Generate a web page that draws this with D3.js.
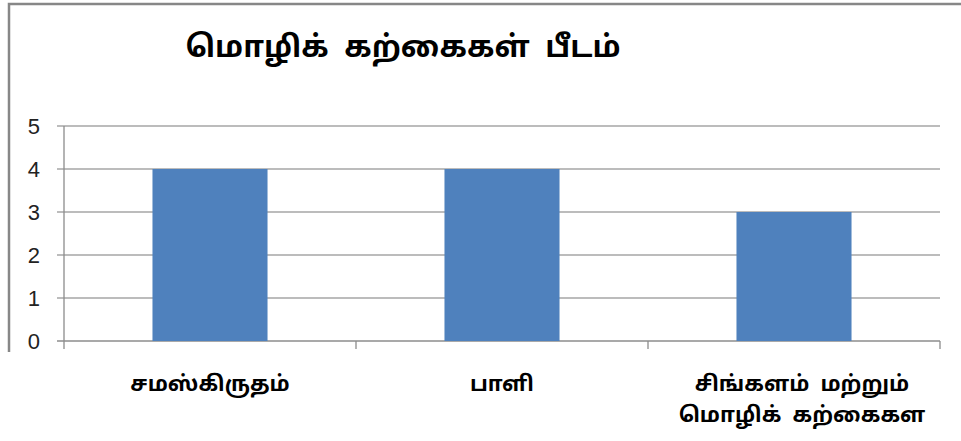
<html>
<head>
<meta charset="utf-8">
<style>
  body { margin:0; background:#fff; }
  svg { display:block; }
  text { white-space: pre; }
</style>
</head>
<body>
<div id="chart"></div>
<script src="https://cdn.jsdelivr.net/npm/d3@7"></script>
<script>
var title = "மொழிக் கற்கைகள் பீடம்";
var categories = ["சமஸ்கிருதம்", "பாளி", "சிங்களம் மற்றும் மொழிக் கற்கைகள"];
var labelLines = [["சமஸ்கிருதம்"], ["பாளி"], ["சிங்களம்  மற்றும்", "மொழிக்  கற்கைகள"]];
var values = [4, 4, 3];
var yTicks = [0, 1, 2, 3, 4, 5];

var W = 961, H = 441;
var mLeft = 64, mRight = 940, mTop = 126, mBottom = 341;

var svg = d3.select("#chart").append("svg")
    .attr("width", W).attr("height", H);

// outer frame (only top & left visible in the crop)
svg.append("path")
    .attr("d", "M9,352 V4 H961")
    .attr("fill", "none")
    .attr("stroke", "#878787")
    .attr("stroke-width", 2.5);

var x = d3.scaleBand().domain(categories).range([mLeft, mRight]).paddingInner(0.606).paddingOuter(0.303);
var xOuter = d3.scaleBand().domain(categories).range([mLeft, mRight]);
var y = d3.scaleLinear().domain([0, 5]).range([mBottom, mTop]);

// gridlines
svg.append("g").selectAll("line")
    .data(yTicks)
    .enter().append("line")
    .attr("x1", mLeft - 7).attr("x2", mRight)
    .attr("y1", function(d){ return y(d); })
    .attr("y2", function(d){ return y(d); })
    .attr("stroke", function(d){ return d === 0 ? "#8c8c8c" : "#a6a6a6"; })
    .attr("stroke-width", 1.3);

// y axis line
svg.append("line")
    .attr("x1", mLeft).attr("x2", mLeft)
    .attr("y1", mTop).attr("y2", mBottom + 8)
    .attr("stroke", "#8c8c8c").attr("stroke-width", 1.3);

// y tick labels
svg.append("g").selectAll("text")
    .data(yTicks)
    .enter().append("text")
    .attr("x", 40)
    .attr("y", function(d){ return y(d) + 8; })
    .attr("text-anchor", "end")
    .style("font-family", "'Liberation Sans', Arial, sans-serif")
    .style("font-size", "22px")
    .attr("fill", "#222")
    .text(function(d){ return d; });

// category ticks
var tickXs = categories.map(function(c){ return xOuter(c) + xOuter.bandwidth(); });
svg.append("g").selectAll("line")
    .data(tickXs)
    .enter().append("line")
    .attr("x1", function(d){ return d; }).attr("x2", function(d){ return d; })
    .attr("y1", mBottom).attr("y2", mBottom + 8)
    .attr("stroke", "#8c8c8c").attr("stroke-width", 1.3);

// bars
svg.append("g").selectAll("rect")
    .data(values)
    .enter().append("rect")
    .attr("x", function(d, i){ return x(categories[i]); })
    .attr("width", x.bandwidth())
    .attr("y", function(d){ return y(d); })
    .attr("height", function(d){ return y(0) - y(d); })
    .attr("fill", "#4f81bd");

// category labels
var lab = svg.append("g").selectAll("text")
    .data(categories)
    .enter().append("text")
    .attr("x", function(d){ return xOuter(d) + xOuter.bandwidth() / 2; })
    .attr("y", 391)
    .attr("text-anchor", "middle")
    .style("font-family", "'Noto Sans Tamil', Latha, sans-serif")
    .style("font-size", "21.5px")
    .style("font-weight", "bold")
    .attr("fill", "#000");
lab.each(function(d, i){
    var t = d3.select(this);
    labelLines[i].forEach(function(line, j){
        t.append("tspan")
            .attr("x", xOuter(d) + xOuter.bandwidth() / 2 + (i === 2 ? 8 : 0))
            .attr("dy", j === 0 ? 0 : 31)
            .text(line);
    });
});

// title
svg.append("text")
    .attr("x", 403)
    .attr("y", 57)
    .attr("text-anchor", "middle")
    .style("font-family", "'Noto Sans Tamil', Latha, sans-serif")
    .style("font-size", "30px")
    .style("font-weight", "bold")
    .attr("fill", "#000")
    .text(title.replace(/ /g, "  "));
</script>
</body>
</html>
